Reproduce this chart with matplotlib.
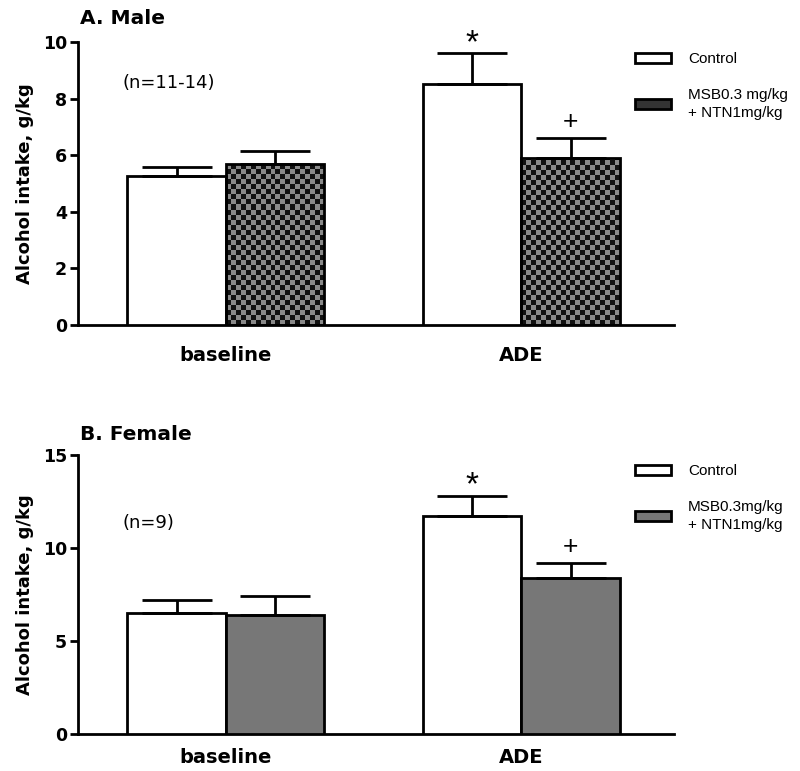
import matplotlib
matplotlib.use("Agg")
import matplotlib.pyplot as plt
from matplotlib.patches import Patch
import numpy as np

plt.rcParams.update({
    "font.family": ["DejaVu Sans"],
    "axes.linewidth": 2,
})

# ---- data ----
groups = ["baseline", "ADE"]
male_ctrl = [5.25, 8.5]
male_ctrl_err = [0.32, 1.1]
male_drug = [5.7, 5.9]
male_drug_err = [0.45, 0.72]
fem_ctrl = [6.5, 11.7]
fem_ctrl_err = [0.7, 1.1]
fem_drug = [6.4, 8.4]
fem_drug_err = [1.0, 0.8]

W, H = 800, 771
PX = 0.72  # points per pixel at dpi 100
fig = plt.figure(figsize=(W / 100, H / 100), dpi=100)

x_ctrl = np.array([1.0, 4.0])
x_drug = x_ctrl + 1.0
bw = 1.0


def checker_fill(ax, bar, ax_h_px, ymax):
    # checkerboard fill (black / grey) clipped to the bar outline
    x0, y0 = bar.get_x(), bar.get_y()
    x1, y1 = x0 + bar.get_width(), y0 + bar.get_height()
    ncol = 20
    cell_h = ymax / ax_h_px * 5.0
    nrow = int(np.ceil((y1 - y0) / cell_h))
    yy, xx = np.mgrid[0:nrow, 0:ncol]
    board = (xx + yy) % 2
    im = ax.imshow(board, extent=[x0, x1, y0, y0 + nrow * cell_h], origin="lower",
                   cmap=matplotlib.colors.ListedColormap(["#111111", "#8a8a8a"]),
                   interpolation="nearest", aspect="auto", zorder=2)
    im.set_clip_path(bar)


def panel(rect, ctrl, ctrl_err, drug, drug_err, ymax, yticks, title, title_y, ntext,
          n_y, drug_label, leg_y, checker, xpad):
    ax = fig.add_axes(rect)
    ax_h_px = rect[3] * H
    bc = ax.bar(x_ctrl, ctrl, bw, color="white", edgecolor="black", linewidth=2, zorder=3)
    if checker:
        bd = ax.bar(x_drug, drug, bw, color="none", edgecolor="black", linewidth=2, zorder=3)
        for b in bd:
            checker_fill(ax, b, ax_h_px, ymax)
        handle_drug = Patch(facecolor="#333333", edgecolor="black", linewidth=2)
    else:
        bd = ax.bar(x_drug, drug, bw, color="#777777", edgecolor="black", linewidth=2, zorder=3)
        handle_drug = Patch(facecolor="#777777", edgecolor="black", linewidth=2)
    for xs, v, e in [(x_ctrl, ctrl, ctrl_err), (x_drug, drug, drug_err)]:
        ax.errorbar(xs, v, yerr=[np.zeros(len(v)), e], fmt="none", ecolor="black",
                    elinewidth=2, capsize=25, capthick=2, zorder=4)
    # significance marks above ADE bars
    ax.annotate("*", (x_ctrl[1], ctrl[1] + ctrl_err[1]), xytext=(0, 1),
                textcoords="offset points", ha="center", va="baseline", fontsize=24,
                family="Liberation Sans", annotation_clip=False)
    ax.annotate("+", (x_drug[1], drug[1] + drug_err[1]), xytext=(0, 9 * PX),
                textcoords="offset points", ha="center", va="baseline", fontsize=19,
                family="Liberation Sans", annotation_clip=False)

    ax.set_xlim(0, 6.05)
    ax.set_ylim(0, ymax)
    ax.set_yticks(yticks)
    ax.set_yticklabels([str(t) for t in yticks], fontsize=12.5, fontweight="bold")
    ax.set_xticks((x_ctrl + x_drug) / 2)
    ax.set_xticklabels(groups, fontsize=14, fontweight="bold")
    ax.tick_params(axis="x", length=0, pad=xpad)
    ax.tick_params(axis="y", length=6, width=2, pad=2)
    ax.spines["top"].set_visible(False)
    ax.spines["right"].set_visible(False)
    ax.set_ylabel("Alcohol intake, g/kg", fontsize=13, fontweight="bold", labelpad=6)
    fig.text(80 / W, 1 - title_y / H, title, fontsize=14.5, fontweight="bold",
             ha="left", va="baseline")
    fig.text(123 / W, 1 - n_y / H, ntext, fontsize=13, ha="left", va="center")
    leg = ax.legend([bc[0], handle_drug], ["Control", drug_label], loc="upper left",
                    bbox_to_anchor=(629 / W, 1 - leg_y / H), bbox_transform=fig.transFigure,
                    frameon=False, prop={"family": "Liberation Sans", "size": 11},
                    handlelength=2.35, handleheight=0.6, handletextpad=1.1,
                    labelspacing=1.4, borderaxespad=0)
    for t in leg.get_texts():
        t.set_linespacing(1.45)
    return ax


panel([78 / W, 1 - 325 / H, 596 / W, 283 / H], male_ctrl, male_ctrl_err, male_drug,
      male_drug_err, 10, [0, 2, 4, 6, 8, 10], "A. Male", 24, "(n=11-14)", 83,
      "MSB0.3 mg/kg\n+ NTN1mg/kg", 46, True, 15)
panel([78 / W, 1 - 734 / H, 596 / W, 279 / H], fem_ctrl, fem_ctrl_err, fem_drug,
      fem_drug_err, 15, [0, 5, 10, 15], "B. Female", 440, "(n=9)", 523,
      "MSB0.3mg/kg\n+ NTN1mg/kg", 458, False, 10)

fig.savefig("out.png", dpi=100)
